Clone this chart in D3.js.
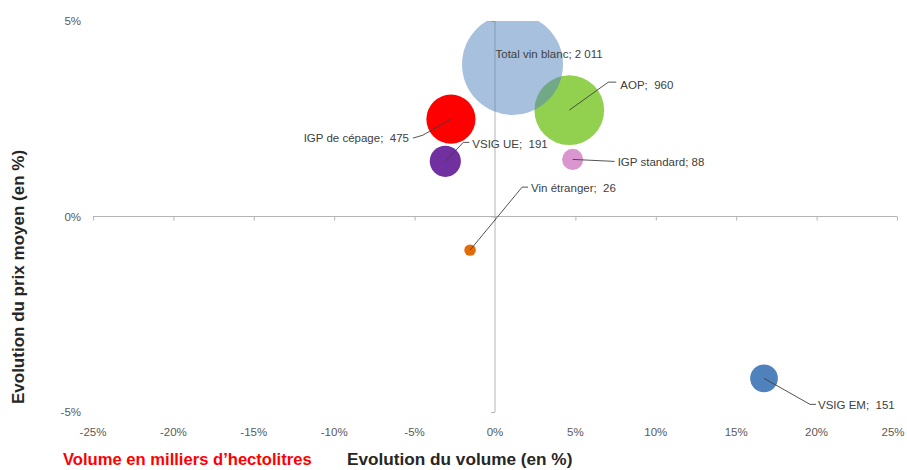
<!DOCTYPE html>
<html>
<head>
<meta charset="utf-8">
<script src="https://cdn.jsdelivr.net/npm/d3@7"></script>
<style>
  html, body { margin: 0; padding: 0; background: #fff; }
  svg { display: block; }
  text { font-family: "Liberation Sans", Arial, sans-serif; white-space: pre; }
</style>
</head>
<body>
<svg id="chart" width="907" height="470"></svg>
<script>
// ---- Data ----
const categories = ["VSIG EM", "Vin étranger", "IGP standard", "VSIG UE", "IGP de cépage", "AOP", "Total vin blanc"];
const volumeChange = [16.73, -1.55, 4.83, -3.09, -2.74, 4.62, 1.09];   // x, %
const priceChange  = [-4.14, -0.86, 1.46, 1.41, 2.49, 2.72, 3.89];     // y, %
const volumes      = [151, 26, 88, 191, 475, 960, 2011];               // bubble size, milliers hl
const labelTexts   = ["VSIG EM;  151", "Vin étranger;  26", "IGP standard; 88", "VSIG UE;  191", "IGP de cépage;  475", "AOP;  960", "Total vin blanc; 2 011"];
const xTicks = [-25, -20, -15, -10, -5, 0, 5, 10, 15, 20, 25];
const yTicks = [-5, 0, 5];

// ---- Styles / layout (not data) ----
const colors = {
  "VSIG EM": "#4F81BD", "Vin étranger": "#E36C09", "IGP standard": "#DA97CF",
  "VSIG UE": "#7030A0", "IGP de cépage": "#FF0000", "AOP": "#92D050", "Total vin blanc": "#4F81BD"
};
const opac = { "Total vin blanc": 0.5 };
// leader geometry relative to bubble center: points of polyline, text anchor point & alignment
const leaders = {
  "VSIG EM":       { pts: [[46, 26], [52, 26]], txt: [54, 27], anchor: "start" },
  "Vin étranger":  { pts: [[52, -63], [58, -63]], txt: [61, -62], anchor: "start" },
  "IGP standard":  { pts: [[42, 2]], txt: [45, 2.4], anchor: "start" },
  "VSIG UE":       { pts: [[18, -19], [24, -19]], txt: [27, -17], anchor: "start" },
  "IGP de cépage": { pts: [[-28, 16], [-38, 19]], txt: [-42, 19], anchor: "end" },
  "AOP":           { pts: [[39, -28], [47, -28]], txt: [51, -25], anchor: "start" },
  "Total vin blanc": { pts: null, txt: [-17, -10], anchor: "start" }
};

const W = 907;
const svg = d3.select("#chart");
const x = d3.scaleLinear().domain([-25, 25]).range([93, 897]);
const y = d3.scaleLinear().domain([-5, 5]).range([412, 21]);
const r = d3.scaleSqrt().domain([0, 2011]).range([0, 50.5]);

const axisColor = "#B4B4B4";

// clip for plot area
svg.append("defs").append("clipPath").attr("id", "plotclip")
  .append("rect").attr("x", x(-25)).attr("y", y(5)).attr("width", x(25) - x(-25)).attr("height", y(-5) - y(5));

// Horizontal axis (at y=0)
const xAxis = d3.axisBottom(x).tickValues(xTicks).tickSize(4).tickFormat("");
const gx = svg.append("g").attr("transform", `translate(0,${y(0)})`).call(xAxis);
gx.select(".domain").attr("stroke", axisColor).attr("d", `M${x(-25)},0H${x(25)}`);
gx.selectAll(".tick line").attr("stroke", axisColor);

// Vertical axis (at x=0)
const yAxis = d3.axisLeft(y).tickValues(yTicks).tickSize(4).tickFormat("");
const gy = svg.append("g").attr("transform", `translate(${x(0)},0)`).call(yAxis);
gy.select(".domain").attr("stroke", axisColor).attr("d", `M0,${y(5)}V${y(-5)}`);
gy.selectAll(".tick line").attr("stroke", axisColor);

// Tick labels (last one kept inside the picture)
svg.append("g").selectAll("text").data(xTicks).join("text")
  .attr("x", d => Math.min(x(d), W - 14)).attr("y", 436)
  .attr("text-anchor", "middle").attr("font-size", 11.5).attr("fill", "#595959")
  .text(d => d + "%");
svg.append("g").selectAll("text").data(yTicks).join("text")
  .attr("x", 81).attr("y", d => y(d)).attr("dy", "0.35em")
  .attr("text-anchor", "end").attr("font-size", 11.5).attr("fill", "#595959")
  .text(d => d + "%");

// Bubbles
const data = categories.map((c, i) => ({ name: c, vx: volumeChange[i], vy: priceChange[i], v: volumes[i], label: labelTexts[i] }));
svg.append("g").attr("clip-path", "url(#plotclip)")
  .selectAll("circle").data(data).join("circle")
  .attr("cx", d => x(d.vx)).attr("cy", d => y(d.vy)).attr("r", d => r(d.v))
  .attr("fill", d => colors[d.name]).attr("fill-opacity", d => opac[d.name] || 1);

// Leader lines
const line = d3.line();
svg.append("g").selectAll("path").data(data.filter(d => leaders[d.name].pts)).join("path")
  .attr("d", d => {
    const cx = x(d.vx), cy = y(d.vy);
    const pts = [[cx, cy]].concat(leaders[d.name].pts.map(p => [cx + p[0], cy + p[1]]));
    return line(pts);
  })
  .attr("fill", "none").attr("stroke", "#404040").attr("stroke-width", 0.9);

// Data labels
svg.append("g").selectAll("text").data(data).join("text")
  .attr("x", d => x(d.vx) + leaders[d.name].txt[0])
  .attr("y", d => y(d.vy) + leaders[d.name].txt[1])
  .attr("dy", "0.35em")
  .attr("text-anchor", d => leaders[d.name].anchor)
  .attr("font-size", 11.5).attr("fill", "#404040")
  .text(d => d.label);

// Axis titles
svg.append("text").attr("transform", "translate(24,277) rotate(-90)")
  .attr("text-anchor", "middle").attr("font-size", 17).attr("font-weight", "bold").attr("fill", "#262626")
  .text("Evolution du prix moyen (en %)");
svg.append("text").attr("x", 347).attr("y", 465)
  .attr("font-size", 17.2).attr("font-weight", "bold").attr("fill", "#262626")
  .text("Evolution du volume (en %)");
svg.append("text").attr("x", 63).attr("y", 465)
  .attr("font-size", 16.6).attr("font-weight", "bold").attr("fill", "#FF0000")
  .text("Volume en milliers d’hectolitres");
</script>
</body>
</html>
